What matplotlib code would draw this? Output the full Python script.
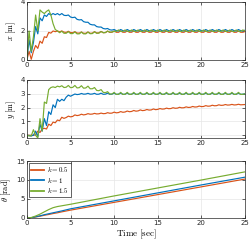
import numpy as np
import matplotlib
matplotlib.use('Agg')
import matplotlib.pyplot as plt

# time grid for x / y responses (0.25 s steps)
t = np.linspace(0, 25, 101)

# x position [m]
x_k05 = [0, 0.6, 0.05, 0.6, 1.0, 0.8, 1.3, 1.15, 1.6, 1.55, 1.9, 1.85, 2.0, 1.95, 2.0, 1.94,
         2.0, 1.92, 1.9, 1.98, 1.89, 1.88, 1.95, 1.86, 1.85, 1.93, 1.84, 1.84,
         1.93, 1.84, 1.85, 1.95, 1.86, 1.87, 1.97, 1.88, 1.89, 1.99, 1.9, 1.91,
         2.0, 1.91, 1.91, 2.0, 1.91, 1.91, 2.0, 1.91, 1.91, 2.0, 1.91, 1.91,
         2.0, 1.91, 1.91, 2.0, 1.91, 1.91, 2.0, 1.91, 1.91, 2.0, 1.91, 1.91,
         2.0, 1.91, 1.91, 2.0, 1.91, 1.91, 2.0, 1.91, 1.91, 2.0, 1.91, 1.91,
         2.0, 1.91, 1.91, 2.0, 1.91, 1.91, 2.0, 1.91, 1.91, 2.0, 1.91, 1.91,
         2.0, 1.91, 1.91, 2.0, 1.91, 1.91, 2.0, 1.91, 1.91, 2.0, 1.91, 1.91,
         1.96]
x_k1 = [0, 1.4, 0.5, 1.2, 2.3, 1.8, 2.9, 2.7, 3.1, 3.0, 3.2, 3.1, 3.2, 3.12, 3.2, 3.1,
        3.2, 3.08, 3.06, 3.1, 2.96, 2.92, 2.95, 2.8, 2.76, 2.78, 2.64, 2.6,
        2.6, 2.46, 2.42, 2.42, 2.3, 2.27, 2.27, 2.17, 2.14, 2.17, 2.08, 2.06,
        2.1, 2.02, 2.0, 2.1, 2.02, 2.0, 2.1, 2.02, 2.0, 2.1, 2.02, 2.0,
        2.1, 2.02, 2.0, 2.1, 2.02, 2.0, 2.1, 2.02, 2.0, 2.1, 2.02, 2.0,
        2.1, 2.02, 2.0, 2.1, 2.02, 2.0, 2.1, 2.02, 2.0, 2.1, 2.02, 2.0,
        2.1, 2.02, 2.0, 2.1, 2.02, 2.0, 2.1, 2.02, 2.0, 2.1, 2.02, 2.0,
        2.1, 2.02, 2.0, 2.1, 2.02, 2.0, 2.1, 2.02, 2.0, 2.1, 2.02, 2.0,
        2.05]
x_k15 = [0, 2.0, 0.6, 1.6, 3.1, 2.0, 3.45, 3.3, 3.2, 3.35, 3.45, 3.1, 2.5, 2.1, 2.0, 1.88,
         1.98, 1.84, 1.84, 1.95, 1.82, 1.82, 1.93, 1.8, 1.8, 1.92, 1.8, 1.8,
         1.92, 1.81, 1.82, 1.94, 1.84, 1.85, 1.96, 1.88, 1.89, 1.99, 1.92, 1.93,
         1.97, 1.97, 2.07, 1.97, 1.97, 2.07, 1.97, 1.97, 2.07, 1.97, 1.97, 2.07,
         1.97, 1.97, 2.07, 1.97, 1.97, 2.07, 1.97, 1.97, 2.07, 1.97, 1.97, 2.07,
         1.97, 1.97, 2.07, 1.97, 1.97, 2.07, 1.97, 1.97, 2.07, 1.97, 1.97, 2.07,
         1.97, 1.97, 2.07, 1.97, 1.97, 2.07, 1.97, 1.97, 2.07, 1.97, 1.97, 2.07,
         1.97, 1.97, 2.07, 1.97, 1.97, 2.07, 1.97, 1.97, 2.07, 1.97, 1.97, 2.07,
         2.0]

# y position [m]
y_k05 = [0, 0, 0, 0, 0.02, 0.3, 0.2, 0.45, 0.5, 0.45, 0.8, 0.7, 0.95, 0.9, 1.1, 1.05,
         1.3, 1.22, 1.28, 1.38, 1.33, 1.36, 1.47, 1.42, 1.45, 1.52, 1.47, 1.5,
         1.56, 1.52, 1.53, 1.58, 1.54, 1.55, 1.6, 1.56, 1.57, 1.63, 1.59, 1.6,
         1.67, 1.62, 1.64, 1.71, 1.66, 1.68, 1.75, 1.7, 1.72, 1.79, 1.74, 1.76,
         1.83, 1.78, 1.8, 1.86, 1.82, 1.83, 1.9, 1.85, 1.87, 1.93, 1.89, 1.9,
         1.96, 1.92, 1.93, 1.99, 1.95, 1.96, 2.02, 1.98, 1.99, 2.05, 2.01, 2.02,
         2.08, 2.04, 2.05, 2.11, 2.07, 2.08, 2.14, 2.1, 2.11, 2.17, 2.13, 2.14,
         2.2, 2.16, 2.17, 2.22, 2.18, 2.19, 2.23, 2.19, 2.2, 2.24, 2.2, 2.21,
         2.22]
y_k1 = [0, -0.02, -0.05, 0.0, 0.3, -0.1, 0.8, 0.3, 1.2, 0.7, 1.7, 1.5, 2.2, 2.0, 2.6, 2.45,
        2.6, 2.5, 2.75, 2.9, 2.82, 2.9, 2.98, 2.94, 2.96, 3.02, 2.97, 2.98,
        3.03, 2.97, 2.98, 3.03, 2.96, 2.97, 3.04, 2.96, 2.97, 3.04, 2.96, 2.97,
        3.04, 2.96, 2.97, 3.04, 2.96, 2.97, 3.04, 2.96, 2.97, 3.04, 2.96, 2.97,
        3.04, 2.96, 2.97, 3.04, 2.96, 2.97, 3.04, 2.96, 2.97, 3.04, 2.96, 2.97,
        3.04, 2.96, 2.97, 3.04, 2.96, 2.97, 3.04, 2.96, 2.97, 3.04, 2.96, 2.97,
        3.04, 2.96, 2.97, 3.04, 2.96, 2.97, 3.04, 2.96, 2.97, 3.04, 2.96, 2.97,
        3.04, 2.96, 2.97, 3.04, 2.96, 2.97, 3.04, 2.96, 2.97, 3.04, 2.96, 2.97,
        3.0]
y_k15 = [0, -0.05, -0.05, 0.4, 0.0, -0.2, 1.2, 0.3, 2.4, 2.3, 3.3, 3.45, 3.5, 3.45, 3.55, 3.5,
         3.58, 3.45, 3.47, 3.6, 3.44, 3.46, 3.6, 3.42, 3.44, 3.58, 3.4, 3.42,
         3.55, 3.36, 3.36, 3.45, 3.24, 3.22, 3.3, 3.1, 3.08, 3.15, 2.98, 2.98,
         3.1, 2.95, 2.96, 3.1, 2.95, 2.96, 3.1, 2.95, 2.96, 3.1, 2.95, 2.96,
         3.1, 2.95, 2.96, 3.1, 2.95, 2.96, 3.1, 2.95, 2.96, 3.1, 2.95, 2.96,
         3.1, 2.95, 2.96, 3.1, 2.95, 2.96, 3.1, 2.95, 2.96, 3.1, 2.95, 2.96,
         3.1, 2.95, 2.96, 3.1, 2.95, 2.96, 3.1, 2.95, 2.96, 3.1, 2.95, 2.96,
         3.1, 2.95, 2.96, 3.1, 2.95, 2.96, 3.1, 2.95, 2.96, 3.1, 2.95, 2.96,
         3.0]

# heading [rad]
t_th = [0, 0.5, 1, 1.5, 2, 2.5, 3, 3.5, 4, 5, 10, 15, 20, 25]
th_k05 = [0, 0.0, 0.25, 0.45, 0.7, 0.9, 1.15, 1.35, 1.6, 2.05, 4.1, 6.15, 8.2, 10.25]
th_k1 = [0, 0.05, 0.3, 0.55, 0.85, 1.1, 1.35, 1.6, 1.85, 2.4, 4.5, 6.6, 8.7, 10.75]
th_k15 = [0, 0.1, 0.5, 1.0, 1.6, 2.2, 2.7, 3.0, 3.2, 3.6, 5.8, 7.9, 10.0, 12.15]

labels = [r'$k = 0.5$', r'$k = 1$', r'$k = 1.5$']
colors = ['#D95319', '#0072BD', '#77AC30']

plt.rcParams.update({'font.size': 5, 'mathtext.fontset': 'cm',
                     'axes.linewidth': 0.5, 'axes.edgecolor': '#262626',
                     'xtick.color': '#262626', 'ytick.color': '#262626'})

fig = plt.figure(figsize=(2.49, 2.40), dpi=100)
ax1 = fig.add_axes([0.108, 0.75, 0.876, 0.242])
ax2 = fig.add_axes([0.108, 0.425, 0.876, 0.242])
ax3 = fig.add_axes([0.108, 0.092, 0.876, 0.237])

for ys, c in zip([x_k05, x_k1, x_k15], colors):
    ax1.plot(t, ys, color=c, lw=0.85)
for ys, c in zip([y_k05, y_k1, y_k15], colors):
    ax2.plot(t, ys, color=c, lw=0.85)
for ys, c, lab in zip([th_k05, th_k1, th_k15], colors, labels):
    ax3.plot(t_th, ys, color=c, lw=0.85, label=lab)

ax1.set_ylim(0, 4)
ax1.set_yticks([0, 2, 4])
ax2.set_ylim(-0.2, 4)
ax2.set_yticks([0, 1, 2, 3, 4])
ax3.set_ylim(0, 15)
ax3.set_yticks([0, 5, 10, 15])

ax1.set_ylabel(r'$x\ \mathrm{[m]}$', fontsize=6, labelpad=2)
ax2.set_ylabel(r'$y\ \mathrm{[m]}$', fontsize=6, labelpad=2)
ax3.set_ylabel(r'$\theta\ \mathrm{[rad]}$', fontsize=6, labelpad=2)
ax3.set_xlabel(r'$\mathrm{Time\ [sec]}$', fontsize=6.5, labelpad=1)

for ax in (ax1, ax2, ax3):
    ax.set_xlim(0, 25)
    ax.set_xticks([0, 5, 10, 15, 20, 25])
    ax.grid(True, color='#e6e6e6', lw=0.5)
    ax.set_axisbelow(True)
    ax.tick_params(direction='in', length=2, width=0.5, pad=1.5,
                   top=True, right=True)

leg = ax3.legend(loc='upper left', fontsize=5, handlelength=1.9,
                 borderpad=0.3, labelspacing=0.2, handletextpad=0.4,
                 fancybox=False, framealpha=1, borderaxespad=0.3)
leg.get_frame().set_linewidth(0.5)
leg.get_frame().set_edgecolor('#262626')
for line in leg.get_lines():
    line.set_linewidth(1.3)

fig.savefig('out.png', dpi=100)
